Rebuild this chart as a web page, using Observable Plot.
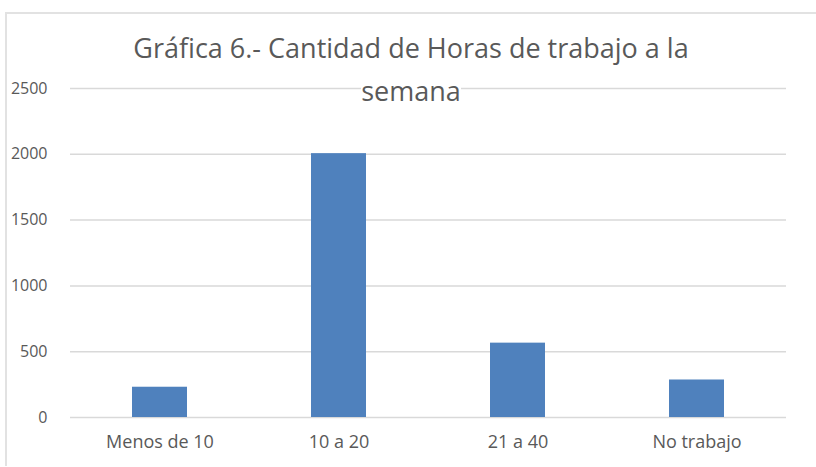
<!DOCTYPE html>
<html>
<head>
<meta charset="utf-8">
<script src="https://cdn.jsdelivr.net/npm/d3@7"></script>
<script src="https://cdn.jsdelivr.net/npm/@observablehq/plot@0.6"></script>
<style>
  html, body { margin: 0; padding: 0; background: #fff; overflow: hidden; }
  #wrap { position: relative; width: 816px; height: 467px; overflow: hidden; font-family: "Open Sans", sans-serif; }
  #frame { position: absolute; left: 5px; top: 12px; width: 830px; height: 452px; border-top: 2px solid #e2e2e2; border-left: 2px solid #e2e2e2; }
  #chart { position: absolute; left: 0; top: 0; }
  #title { position: absolute; left: 111px; width: 600px; top: 26px; text-align: center; font-size: 27px; line-height: 43px; color: #595959; white-space: nowrap; }
  #title span { background: #fff; }
</style>
</head>
<body>
<div id="wrap">
  <div id="frame"></div>
  <div id="chart"></div>
  <div id="title">Gráfica 6.- Cantidad de Horas de trabajo a la<br><span>semana</span></div>
</div>
<script>
const categories = ["Menos de 10", "10 a 20", "21 a 40", "No trabajo"];
const values = [230, 2005, 565, 285];
const yTicks = [0, 500, 1000, 1500, 2000, 2500];

const data = categories.map((c, i) => ({category: c, value: values[i]}));

const chart = Plot.plot({
  width: 816,
  height: 467,
  marginLeft: 70,
  marginRight: 30,
  marginTop: 88,
  marginBottom: 50,
  style: {fontFamily: "Open Sans, sans-serif", fontSize: "16px", color: "#595959", background: "transparent"},
  x: {domain: categories, paddingInner: 0.69, paddingOuter: 0.345, label: null},
  y: {domain: [0, 2500], ticks: yTicks, label: null},
  marks: [
    Plot.gridY(yTicks, {stroke: "#d9d9d9", strokeOpacity: 1, strokeWidth: 1.5}),
    Plot.barY(data, {x: "category", y: "value", fill: "#4f81bd"}),
    Plot.axisX({tickSize: 0, tickPadding: 18, fontSize: 18, label: null}),
    Plot.axisY(yTicks, {tickSize: 0, tickPadding: 23, fontSize: 16, tickFormat: d3.format("d"), label: null})
  ]
});
document.getElementById("chart").appendChild(chart);
</script>
</body>
</html>
